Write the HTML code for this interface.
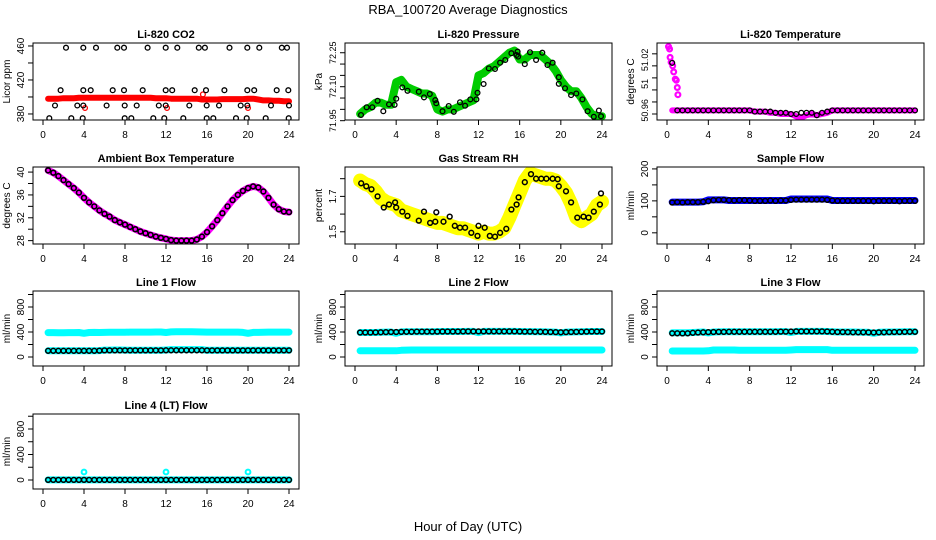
<!DOCTYPE html>
<html><head><meta charset="utf-8">
<style>
html,body{margin:0;padding:0;background:#fff;}
svg{display:block;font-family:"Liberation Sans",Arial,sans-serif;}
</style></head>
<body>
<svg id="chart" width="936" height="540" viewBox="0 0 936 540" xmlns="http://www.w3.org/2000/svg">
<rect x="0" y="0" width="936" height="540" fill="#fff"/>
<text x="468" y="14" text-anchor="middle" font-size="13">RBA_100720  Average Diagnostics</text>
<text x="468" y="531" text-anchor="middle" font-size="13">Hour of Day (UTC)</text>
</svg>
<script>
// ---------- shared x categories ----------
const hrs = [0.5,1,1.5,2,2.5,3,3.5,4,4.5,5,5.5,6,6.5,7,7.5,8,8.5,9,9.5,10,10.5,11,11.5,12,12.5,13,13.5,14,14.5,15,15.5,16,16.5,17,17.5,18,18.5,19,19.5,20,20.5,21,21.5,22,22.5,23,23.5,24];
const xTicks = [0,4,8,12,16,20,24];

// ---------- CO2 ----------
const co2Red = [398,398,398,398.5,398.5,398.5,399,399,399,399,399,399,399,399,399,399,399,399,399,399,399,398.5,398.5,398.5,398,398,398,398,398,398,397,397,397,397,397.5,397.5,397.5,397.5,397.5,398,398,397,396,396,395.5,395.5,395,395];
const co2OutX = [4.1,12.1,15.6,20];
const co2OutY = [387,387,403,387];
const co2BlkX = [2.24,3.93,5.17,7.25,7.9,10.2,11.97,13.1,15.2,15.8,18.2,19.93,21.1,23.3,23.8, 1.72,3.93,4.65,6.8,7.9,9.73,11.97,12.6,14.8,15.9,17.7,19.93,20.6,22.8,23.93, 1.17,3.35,3.93,6.2,7.97,9.14,11.3,11.97,14.27,15.97,17.17,19.29,19.93,22.24,24.0, 0.61,2.76,3.87,7.97,8.61,10.76,11.83,13.69,15.97,16.61,18.83,19.87,21.73,23.97];
const co2BlkY = [458,458,458,458,458,458,458,458,458,458,458,458,458,458,458, 408,408,408,408,408,408,408,408,408,408,408,408,408,408,408, 390,390,390,390,390,390,390,390,390,390,390,390,390,390,390, 375,375,375,375,375,375,375,375,375,375,375,375,375,375];

// ---------- Pressure ----------
const presGreen = [71.98,72.0,72.01,72.03,72.03,72.02,72.02,72.12,72.13,72.1,72.09,72.08,72.07,72.07,72.06,72.0,71.99,72.0,72.0,72.01,72.02,72.03,72.04,72.15,72.16,72.18,72.19,72.21,72.23,72.25,72.26,72.22,72.22,72.24,72.24,72.24,72.22,72.2,72.17,72.13,72.1,72.08,72.08,72.05,72.01,71.98,71.97,71.97];
const presBlkX = [0.58,1.13,1.68,2.2,2.75,3.3,3.85,4.0,4.6,5.1,6.2,6.7,7.27,7.8,7.9,8.5,9.1,9.6,10.2,10.7,11.2,11.8,11.9,12.5,13.0,13.6,14.1,14.6,15.2,15.7,15.8,15.85,16.5,17.0,17.6,18.2,18.7,19.2,19.8,19.8,20.4,21.0,21.5,22.1,22.6,23.2,23.7,23.9];
const presBlkY = [71.975,72.009,72.009,72.038,71.992,72.022,72.02,72.047,72.097,72.082,72.078,72.053,72.068,72.041,72.027,71.992,72.015,71.989,72.031,72.016,72.044,72.044,72.073,72.112,72.181,72.178,72.206,72.218,72.248,72.24,72.255,72.233,72.2,72.252,72.218,72.25,72.196,72.206,72.142,72.113,72.093,72.063,72.07,72.044,71.992,71.967,71.995,71.97];

// ---------- Li-820 Temperature ----------
const ltEarlyX = [0.15,0.25,0.3,0.4,0.55,0.65,0.8,0.9,1.0,1.05];
const ltEarlyY = [51.006,51.004,50.997,50.993,50.99,50.985,50.979,50.978,50.972,50.966];
const ltMag = [50.953,50.953,50.953,50.953,50.953,50.953,50.953,50.953,50.953,50.953,50.953,50.953,50.953,50.953,50.953,50.953,50.952,50.952,50.952,50.951,50.951,50.95,50.95,50.95,50.948,50.947,50.949,50.95,50.949,50.95,50.951,50.953,50.953,50.953,50.953,50.953,50.953,50.953,50.953,50.953,50.953,50.953,50.953,50.953,50.953,50.953,50.953,50.953];
const ltBlk = [50.9925,50.953,50.953,50.953,50.953,50.953,50.953,50.953,50.953,50.953,50.953,50.953,50.953,50.953,50.953,50.953,50.952,50.952,50.952,50.952,50.951,50.951,50.951,50.95,50.95,50.951,50.951,50.951,50.949,50.951,50.952,50.953,50.953,50.953,50.953,50.953,50.953,50.953,50.953,50.953,50.953,50.953,50.953,50.953,50.953,50.953,50.953,50.953];

// ---------- Ambient ----------
const ambient = [40.3,39.9,39.3,38.6,37.9,37.2,36.4,35.5,34.7,34.0,33.3,32.7,32.2,31.6,31.2,30.8,30.4,30.0,29.6,29.3,29.0,28.7,28.5,28.3,28.1,28.0,28.0,28.0,28.0,28.2,28.7,29.5,30.5,31.6,32.8,34.0,35.1,36.0,36.7,37.2,37.5,37.3,36.6,35.5,34.3,33.5,33.1,33.0];

// ---------- Gas RH ----------
const rhYellow = [1.79,1.77,1.76,1.73,1.69,1.67,1.66,1.65,1.62,1.61,1.60,1.59,1.58,1.57,1.56,1.55,1.55,1.54,1.53,1.52,1.52,1.51,1.5,1.49,1.5,1.49,1.49,1.5,1.52,1.58,1.65,1.72,1.79,1.83,1.82,1.81,1.80,1.80,1.79,1.76,1.72,1.66,1.58,1.56,1.58,1.60,1.65,1.67];
const rhBlkX = [0.6,1.1,1.6,2.2,2.8,3.3,3.9,4.0,4.6,5.1,6.2,6.7,7.3,7.8,7.9,8.6,9.2,9.7,10.2,10.7,11.3,11.9,12.0,12.6,13.1,13.6,14.1,14.7,15.2,15.7,15.9,16.5,17.1,17.6,18.1,18.6,19.2,19.7,19.8,20.5,21.0,21.6,22.2,22.7,23.2,23.8,23.9];
const rhBlkY = [1.774,1.757,1.74,1.70,1.637,1.654,1.666,1.637,1.614,1.59,1.563,1.614,1.55,1.557,1.61,1.557,1.586,1.534,1.523,1.523,1.494,1.477,1.534,1.523,1.477,1.472,1.494,1.517,1.626,1.654,1.694,1.78,1.826,1.80,1.80,1.80,1.80,1.797,1.757,1.729,1.666,1.58,1.586,1.58,1.614,1.654,1.717];

// ---------- Sample flow ----------
const sampleBlue = [96,96,96,96,96,96,97,103,103,103,103,101,101,101,101,101,101,101,101,101,101,101,101,106,106,106,106,106,106,106,106,101,101,101,101,101,101,101,101,101,101,101,101,101,101,101,101,101];
const sampleBlk = [95,96,95,96,96,96,97,99,102,103,103,102,101,102,102,101,100,100,100,101,100,101,101,103,104,104,104,104,104,104,103,101,100,100,100,100,100,100,100,99,100,100,100,100,99,100,100,100];

// ---------- Line flows ----------
const l1Hi = [390,390,388,388,390,390,392,380,392,394,392,394,396,396,396,396,398,398,398,398,398,400,400,392,402,404,404,404,404,402,400,398,398,398,398,398,398,398,394,380,394,394,396,398,398,398,398,398];
const l1Lo = [100,100,100,100,100,100,100,100,100,100,102,110,110,112,112,110,108,108,108,108,108,108,108,112,118,118,118,118,118,118,118,108,108,108,108,108,108,108,108,108,108,108,108,108,108,108,108,108];
const l1Blk = [100,100,100,100,100,100,100,100,100,100,102,105,105,105,105,105,105,105,105,105,105,105,105,108,108,108,108,108,108,108,108,105,105,105,105,105,105,105,105,105,105,105,105,105,105,105,105,105];
const l2Hi = [392,392,392,392,395,398,400,380,402,404,404,404,404,404,404,406,408,408,408,408,408,410,410,390,410,410,410,410,410,410,410,408,406,406,404,404,402,400,398,385,398,400,402,404,406,408,408,408];
const l2Lo = [100,100,100,100,100,100,100,100,108,110,112,112,112,112,112,112,112,112,112,112,112,112,112,112,112,112,112,112,112,112,112,112,112,112,112,112,112,112,112,112,112,112,112,112,112,112,112,112];
const l2Blk = [392,392,392,394,396,398,400,400,402,404,404,406,406,406,406,406,408,408,408,408,410,410,410,410,410,410,410,410,410,410,410,408,406,406,404,404,402,400,398,396,398,400,402,404,406,408,408,408];
const l3Hi = [388,388,388,388,392,396,400,385,400,402,404,404,404,404,404,404,404,404,404,404,404,406,406,392,410,410,410,410,410,410,408,404,400,400,400,400,398,396,396,380,396,398,400,400,402,404,404,404];
const l3Lo = [96,96,96,96,96,96,96,100,112,112,112,112,112,108,108,108,108,108,108,108,108,108,108,112,118,118,118,118,118,118,118,108,108,108,108,108,108,108,108,108,108,108,108,108,108,108,108,108];
const l3Blk = [380,380,378,380,388,392,396,398,400,402,402,404,404,404,404,404,404,404,404,404,404,406,406,408,410,410,410,410,410,410,408,404,400,400,398,396,396,396,394,392,394,396,398,400,400,402,404,404];
const l4Cyan = [2,2,2,2,2,2,2,2,2,2,2,2,2,2,2,2,2,2,2,2,2,2,2,2,2,2,2,2,2,2,2,2,2,2,2,2,2,2,2,2,2,2,2,2,2,2,2,2];
const l4Blk = [2,2,2,2,2,2,2,2,2,2,2,2,2,2,2,2,2,2,2,2,2,2,2,2,2,2,2,2,2,2,2,2,2,2,2,2,2,2,2,2,2,2,2,2,2,2,2,2];
const l4OutX = [4,12,20];
const l4OutY = [125,125,125];

// ---------- layout (pixels, not data) ----------
const colL = [33,345,657], colR = [299,612,924], colX0 = [43,355,667], colX24 = [289,602,915];
const rowT = [43,167,291,414], rowB = [120,244,366,489];
const NS = 'http://www.w3.org/2000/svg';
const svg = document.getElementById('chart');

function mk(tag, attrs, parent){
  const e = document.createElementNS(NS, tag);
  for (const k in attrs) e.setAttribute(k, attrs[k]);
  (parent||svg).appendChild(e);
  return e;
}

function panel(cfg){
  const g = mk('g', {});
  
  
  const L = colL[cfg.col], R = colR[cfg.col], T = rowT[cfg.row], B = rowB[cfg.row];
  const x0 = colX0[cfg.col], x24 = colX24[cfg.col];
  const xs = h => x0 + (h/24)*(x24-x0);
  const ys = v => B - (v-cfg.dom[0])/(cfg.dom[1]-cfg.dom[0])*(B-T);
  const t = mk('text', {x:(L+R)/2, y:T-5, 'text-anchor':'middle', 'font-size':11, 'font-weight':'bold'}, g);
  t.textContent = cfg.title;
  
  
  const yt = mk('text', {x:0, y:0, 'text-anchor':'middle', 'font-size':10, transform:`translate(${L-23},${(T+B)/2}) rotate(-90)`}, g);
  yt.textContent = cfg.ylab;
  
  
  const cid = 'clip-' + cfg.name;
  const cp = mk('clipPath', {id:cid}, g);
  mk('rect', {x:L, y:T, width:R-L, height:B-T}, cp);
  const plot = mk('g', {'clip-path':`url(#${cid})`}, g);
  
  
  cfg.series.forEach(s => {
    if (s.type === 'band'){
      const pts = s.x.map((h,i)=> xs(h).toFixed(1)+','+ys(s.y[i]).toFixed(1)).join(' ');
      const pl = mk('polyline', {points:pts, fill:'none', stroke:s.color, 'stroke-width':s.w, 'stroke-linejoin':'round', 'stroke-linecap':'round'}, plot);
      
      
    } else {
      s.x.forEach((h,i) => {
        const c = mk('circle', {cx:xs(h).toFixed(1), cy:ys(s.y[i]).toFixed(1), r:s.r||2.4, fill:'none', stroke:s.color, 'stroke-width':s.sw||1.3}, plot);
        
        
      });
    }
  });
  const bx = mk('rect', {x:L, y:T, width:R-L, height:B-T, fill:'none', stroke:'#000', 'stroke-width':1}, g);
  
  
  xTicks.forEach(h => {
    const X = xs(h);
    mk('line', {x1:X, y1:B, x2:X, y2:B+5, stroke:'#000', 'stroke-width':1}, g);
    const tl = mk('text', {x:X, y:B+18, 'text-anchor':'middle', 'font-size':10}, g);
    tl.textContent = h;
    
    
  });
  cfg.ticks.forEach(v => {
    const Y = ys(v);
    mk('line', {x1:L-5, y1:Y, x2:L, y2:Y, stroke:'#000', 'stroke-width':1}, g);
  });
  cfg.tickVals.forEach((v,i) => {
    const Y = ys(v);
    const tl = mk('text', {x:0, y:0, 'text-anchor':'middle', 'font-size':cfg.tfs||10, transform:`translate(${L-9},${Y}) rotate(-90)`}, g);
    tl.textContent = cfg.tickText[i];
    
    
  });
}

panel({name:'co2', col:0, row:0, title:'Li-820 CO2', ylab:'Licor ppm', dom:[372.9,463.5],
  ticks:[380,400,420,440,460], tickVals:[380,420,460], tickText:['380','420','460'],
  series:[{type:'band', name:'co2-red-band', x:hrs, y:co2Red, color:'#ff0000', w:6},
          {type:'pts', name:'co2-red-outlier', x:co2OutX, y:co2OutY, color:'#ff0000'},
          {type:'pts', name:'co2-avg-point', x:co2BlkX, y:co2BlkY, color:'#000'}]});

panel({name:'pressure', col:1, row:0, title:'Li-820 Pressure', ylab:'kPa', dom:[71.953,72.293], tfs:9,
  ticks:[71.95,72.0,72.05,72.1,72.15,72.2,72.25], tickVals:[71.95,72.1,72.25], tickText:['71.95','72.10','72.25'],
  series:[{type:'band', name:'pressure-green-band', x:hrs, y:presGreen, color:'#00cc00', w:8},
          {type:'pts', name:'pressure-avg-point', x:presBlkX, y:presBlkY, color:'#000'}]});

panel({name:'li-temp', col:2, row:0, title:'Li-820 Temperature', ylab:'degrees C', dom:[50.945,51.009], tfs:9,
  ticks:[50.95,50.96,50.97,50.98,50.99,51.0], tickVals:[50.953,50.975,50.995], tickText:['50.96','51','51.02'],
  series:[{type:'band', name:'li-temp-magenta-band', x:hrs, y:ltMag, color:'#ff00ff', w:6},
          {type:'pts', name:'li-temp-magenta-point', x:ltEarlyX, y:ltEarlyY, color:'#ff00ff', sw:2.2},
          {type:'pts', name:'li-temp-avg-point', x:hrs, y:ltBlk, color:'#000'}]});

panel({name:'ambient', col:0, row:1, title:'Ambient Box Temperature', ylab:'degrees C', dom:[27.41,40.89],
  ticks:[28,30,32,34,36,38,40], tickVals:[28,32,36,40], tickText:['28','32','36','40'],
  series:[{type:'band', name:'ambient-magenta-band', x:hrs, y:ambient, color:'#ff00ff', w:7},
          {type:'pts', name:'ambient-avg-point', x:hrs, y:ambient, color:'#000', sw:1.6}]});

panel({name:'rh', col:1, row:1, title:'Gas Stream RH', ylab:'percent', dom:[1.431,1.866],
  ticks:[1.5,1.6,1.7,1.8], tickVals:[1.5,1.7], tickText:['1.5','1.7'],
  series:[{type:'band', name:'rh-yellow-band', x:hrs, y:rhYellow, color:'#ffff00', w:14},
          {type:'pts', name:'rh-avg-point', x:rhBlkX, y:rhBlkY, color:'#000', sw:1.5}]});

panel({name:'sample-flow', col:2, row:1, title:'Sample Flow', ylab:'ml/min', dom:[-35,206],
  ticks:[0,50,100,150,200], tickVals:[0,100,200], tickText:['0','100','200'],
  series:[{type:'band', name:'sample-blue-band', x:hrs, y:sampleBlue, color:'#0000ff', w:7},
          {type:'pts', name:'sample-avg-point', x:hrs, y:sampleBlk, color:'#000', sw:1.5}]});

const flowTicks = [0,200,400,600,800,1000];
panel({name:'line1-flow', col:0, row:2, title:'Line 1 Flow', ylab:'ml/min', dom:[-144,1056],
  ticks:flowTicks, tickVals:[0,400,800], tickText:['0','400','800'],
  series:[{type:'band', name:'line1-cyan-high', x:hrs, y:l1Hi, color:'#00ffff', w:7},
          {type:'band', name:'line1-cyan-low', x:hrs, y:l1Lo, color:'#00ffff', w:7},
          {type:'pts', name:'line1-avg-point', x:hrs, y:l1Blk, color:'#000', sw:1.5}]});

panel({name:'line2-flow', col:1, row:2, title:'Line 2 Flow', ylab:'ml/min', dom:[-144,1056],
  ticks:flowTicks, tickVals:[0,400,800], tickText:['0','400','800'],
  series:[{type:'band', name:'line2-cyan-high', x:hrs, y:l2Hi, color:'#00ffff', w:7},
          {type:'band', name:'line2-cyan-low', x:hrs, y:l2Lo, color:'#00ffff', w:7},
          {type:'pts', name:'line2-avg-point', x:hrs, y:l2Blk, color:'#000', sw:1.5}]});

panel({name:'line3-flow', col:2, row:2, title:'Line 3 Flow', ylab:'ml/min', dom:[-144,1056],
  ticks:flowTicks, tickVals:[0,400,800], tickText:['0','400','800'],
  series:[{type:'band', name:'line3-cyan-high', x:hrs, y:l3Hi, color:'#00ffff', w:7},
          {type:'band', name:'line3-cyan-low', x:hrs, y:l3Lo, color:'#00ffff', w:7},
          {type:'pts', name:'line3-avg-point', x:hrs, y:l3Blk, color:'#000', sw:1.5}]});

panel({name:'line4-flow', col:0, row:3, title:'Line 4 (LT) Flow', ylab:'ml/min', dom:[-141,1035],
  ticks:flowTicks, tickVals:[0,400,800], tickText:['0','400','800'],
  series:[{type:'band', name:'line4-cyan-band', x:hrs, y:l4Cyan, color:'#00ffff', w:7},
          {type:'pts', name:'line4-cyan-outlier', x:l4OutX, y:l4OutY, color:'#00ffff', sw:2},
          {type:'pts', name:'line4-avg-point', x:hrs, y:l4Blk, color:'#000', sw:1.5}]});
</script>
</body></html>
